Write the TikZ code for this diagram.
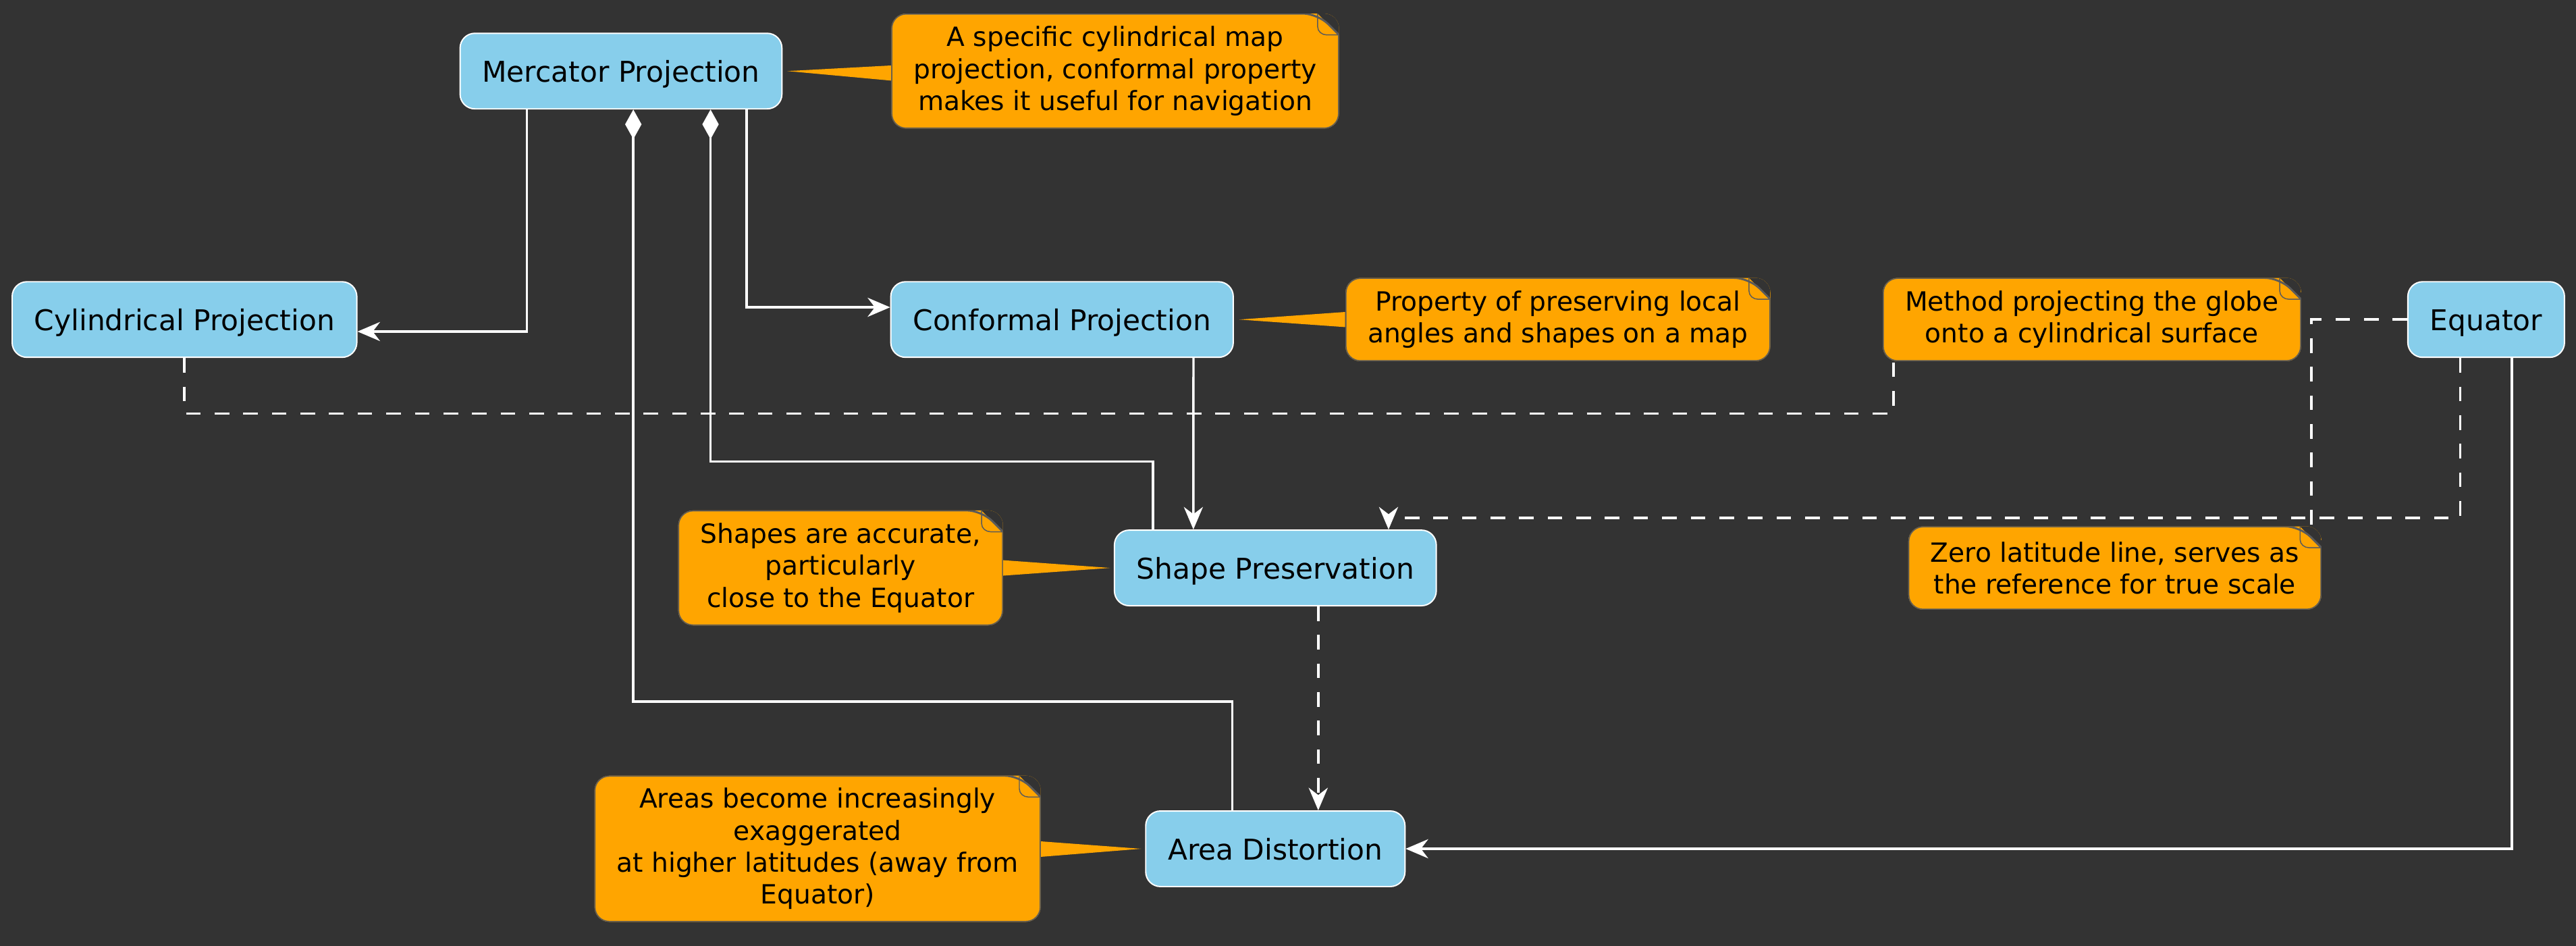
\documentclass[tikz,border=0pt]{standalone}
\usepackage{fontspec}
\setmainfont{DejaVu Sans}
\usetikzlibrary{positioning}
\usetikzlibrary{arrows.meta}
\definecolor{bgc}{HTML}{333333}
\definecolor{skyb}{HTML}{87CEEB}
\definecolor{noteor}{HTML}{FFA500}
\definecolor{notebd}{HTML}{5A5A5A}

\begin{document}
\begin{tikzpicture}[x=1pt,y=-1pt,>={Stealth[length=13.7pt,width=11.6pt,inset=4.4pt]},
		on grid,font={\fontsize{17.4}{21}\selectfont}]
		\tikzstyle{concept}=[draw=white,line width=0.8pt,fill=skyb,rounded corners=9pt,
			minimum height=46pt,inner xsep=13.5pt,text height=14.95pt,text depth=1.65pt]
		\tikzstyle{notebox}=[fill=noteor,rounded corners=9pt,align=center,inner xsep=13.5pt,
			inner ysep=2pt,font={\fontsize{16.1}{19.4}\selectfont},
			path picture={
				\fill[bgc,sharp corners] ([xshift=-13pt]path picture bounding box.north east)
				-- (path picture bounding box.north east)
				-- ([yshift=-13pt]path picture bounding box.north east) -- cycle;
				\draw[notebd,line width=1.2pt] (path picture bounding box.south west)
				-- (path picture bounding box.north west)
				-- ([xshift=-13pt]path picture bounding box.north east) [sharp corners]
				-- ([yshift=-13pt]path picture bounding box.north east) [rounded corners=9pt]
				-- (path picture bounding box.south east) -- cycle;
				\draw[notebd,line width=0.6pt,sharp corners] ([xshift=-13pt]path picture bounding box.north east)
				-- ([xshift=-13pt,yshift=-8pt]path picture bounding box.north east)
				to[out=-90,in=180] ([xshift=-7.5pt,yshift=-13pt]path picture bounding box.north east)
				-- ([yshift=-13pt]path picture bounding box.north east);
			}]
		\tikzstyle{link}=[draw=white,line width=1.4pt]
		\tikzstyle{dlink}=[draw=white,line width=1.5pt,dash pattern=on 8.9pt off 8.5pt]
		
		\useasboundingbox (0,0) rectangle (1568,575.3);
		\fill[bgc] (-5,-5) rectangle (1573,580);
		
		% concepts
		\node[concept]  (merc)  at (378,43.25)                        {Mercator Projection};
		\node[concept]  (cyl)   [below left=151.2pt and 265.7pt of merc]  {Cylindrical Projection};
		\node[concept]  (conf)  [below right=151.2pt and 268.45pt of merc] {Conformal Projection};
		\node[concept]  (equ)   [right=866.85pt of conf]               {Equator};
		\node[concept]  (shape) [below right=151.15pt and 129.85pt of conf] {Shape Preservation};
		\node[concept]  (area)  [below=170.9pt of shape]               {Area Distortion};
		
		% notes
		\node[notebox,minimum height=70pt]   (n1) [right=300.8pt of merc]
			{A specific cylindrical map\\projection, conformal property\\makes it useful for navigation};
		\node[notebox,minimum height=50.7pt] (n2) [right=301.85pt of conf]
			{Property of preserving local\\angles and shapes on a map};
		\node[notebox,minimum height=50.7pt] (n3) [right=325.05pt of n2]
			{Method projecting the globe\\onto a cylindrical surface};
		\node[notebox,minimum height=50.7pt] (n4) [below left=151.2pt and 226pt of equ]
			{Zero latitude line, serves as\\the reference for true scale};
		\node[notebox,minimum height=70pt]   (n5) [left=264.65pt of shape]
			{Shapes are accurate,\\particularly\\close to the Equator};
		\node[notebox,minimum height=89pt]   (n6) [left=278.65pt of area]
			{Areas become increasingly\\exaggerated\\at higher latitudes (away from\\Equator)};
		
		% note pointers
		\fill[noteor] ([yshift=3.4pt]n1.west) -- ([xshift=3pt]merc.east) -- ([yshift=-5.8pt]n1.west) -- cycle;
		\fill[noteor] ([yshift=4.6pt]n2.west) -- ([xshift=3.3pt]conf.east) -- ([yshift=-4.6pt]n2.west) -- cycle;
		\fill[noteor] ([yshift=4.7pt]n5.east) -- ([xshift=-2.2pt]shape.west) -- ([yshift=-4.7pt]n5.east) -- cycle;
		\fill[noteor] ([yshift=4.5pt]n6.east) -- ([xshift=-2.4pt]area.west) -- ([yshift=-4.9pt]n6.east) -- cycle;
		
		% links
		\draw[link,->] ([xshift=-57.4pt]merc.south) |- ([yshift=-7.3pt]cyl.east);
		\draw[link,->] ([xshift=76.5pt]merc.south) |- ([yshift=7.45pt]conf.west);
		\draw[link,{Diamond[length=18pt,width=10pt]}-] ([xshift=7.5pt]merc.south) -- ++(0,360.2) -| ([xshift=-26.25pt]area.north);
		\draw[link,{Diamond[length=18pt,width=10pt]}-] ([xshift=54.5pt]merc.south) -- ++(0,214.3) -| ([xshift=-74.5pt]shape.north);
		\draw[link,->] ([xshift=80pt]conf.south) -- ([xshift=-49.9pt]shape.north);
		\draw[link,->] ([xshift=15.7pt]equ.south) |- (area.east);
		\draw[dlink,->] ([xshift=-15.8pt]equ.south) -- ++(0,97.3) -| ([xshift=68.9pt]shape.north);
		\draw[dlink,->] ([xshift=26.1pt]shape.south) -- ([xshift=26.1pt]area.north);
		\draw[dlink] (cyl.south) -- ++(0,33.8) -| ([xshift=6.6pt]n3.south west);
		\draw[dlink] (equ.west) -| ([xshift=-6.2pt]n4.north east);
		
\end{tikzpicture}
\end{document}
